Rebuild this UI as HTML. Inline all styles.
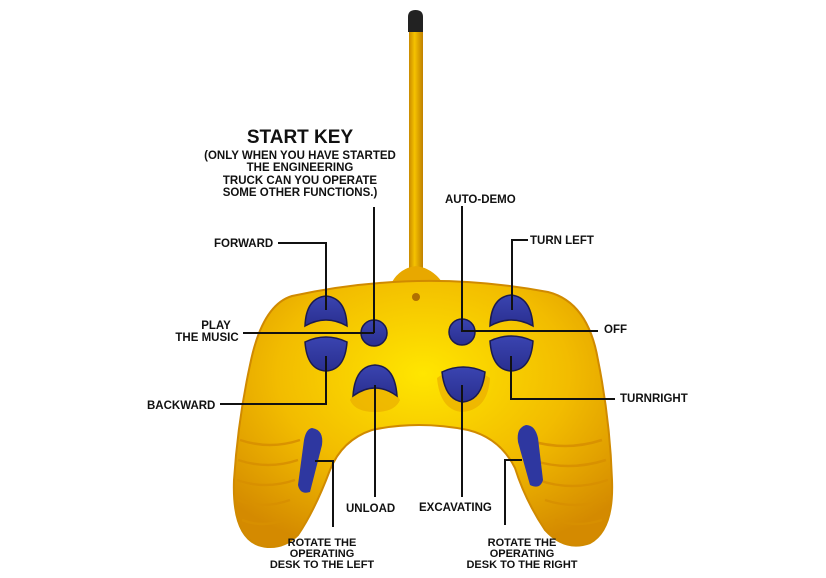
<!DOCTYPE html>
<html><head><meta charset="utf-8"><style>
html,body{margin:0;padding:0;background:#fff;}
svg{display:block;}
text{font-family:"Liberation Sans",Arial,sans-serif;font-weight:bold;fill:#111;}
</style></head><body>
<svg width="826" height="578" viewBox="0 0 826 578" xmlns="http://www.w3.org/2000/svg">
<defs>
<linearGradient id="ant" x1="0" x2="1"><stop offset="0" stop-color="#c98a00"/><stop offset="0.4" stop-color="#f5c200"/><stop offset="1" stop-color="#c08000"/></linearGradient>
<radialGradient id="body" cx="0.5" cy="0.35" r="0.7"><stop offset="0" stop-color="#ffe600"/><stop offset="0.55" stop-color="#f2bc00"/><stop offset="1" stop-color="#d48a00"/></radialGradient>
<linearGradient id="btn" x1="0" y1="0" x2="0" y2="1"><stop offset="0" stop-color="#3a44b0"/><stop offset="1" stop-color="#2a2f90"/></linearGradient>
</defs>
<rect x="409" y="25" width="14" height="255" fill="url(#ant)"/>
<path d="M408 32 L408 17 Q408 10 415.5 10 Q423 10 423 17 L423 32 Z" fill="#222"/>
<path d="M392 282 Q400 268 416 266 Q432 268 442 282 Z" fill="#e8a800"/>
<path d="M292 296 Q420 268 548 292 Q588 302 598 360 Q610 420 612 480 Q614 530 590 543 Q565 552 545 530 Q525 500 515 468 Q500 438 468 430 Q418 420 372 430 Q342 440 330 470 Q315 510 298 535 Q280 552 258 545 Q232 535 234 480 Q238 420 250 365 Q262 305 292 296 Z" fill="url(#body)" stroke="#d08a00" stroke-width="2"/>
<g stroke="#d89000" stroke-width="2.5" fill="none" opacity="0.9">
<path d="M240 440 Q270 450 300 440"/><path d="M238 460 Q268 470 298 460"/><path d="M237 480 Q265 490 295 480"/><path d="M238 500 Q262 510 290 500"/><path d="M242 520 Q262 528 284 520"/>
<path d="M528 440 Q565 452 602 440"/><path d="M532 460 Q568 472 606 460"/><path d="M538 480 Q572 492 608 480"/><path d="M545 500 Q575 510 606 500"/><path d="M555 520 Q578 528 602 520"/>
</g>
<path d="M350 400 Q375 350 400 400 Q395 412 375 412 Q355 412 350 400Z" fill="#e8a600" opacity="0.6"/>
<path d="M437 378 Q462 360 490 378 Q488 410 462 412 Q440 410 437 378Z" fill="#e8a600" opacity="0.6"/>
<circle cx="416" cy="297" r="4" fill="#b07000"/>
<path d="M312 428 Q324 430 322 445 L310 492 Q300 495 298 485 L304 440 Q306 429 312 428Z" fill="#2e37a0"/>
<path d="M526 425 Q516 428 518 442 L530 485 Q540 490 543 480 L538 438 Q535 425 526 425Z" fill="#2e37a0"/>
<g fill="url(#btn)" stroke="#1a1a50" stroke-width="1.5">
<path d="M305 326 Q306 298 326 296 Q346 298 347 326 Q326 314 305 326Z"/>
<path d="M305 342 Q326 332 347 342 Q345 370 326 371 Q307 370 305 342Z"/>
<path d="M490 326 Q491 297 511 295 Q531 297 533 326 Q511 314 490 326Z"/>
<path d="M490 341 Q511 331 533 341 Q531 370 511 371 Q492 370 490 341Z"/>
<circle cx="374" cy="333" r="13"/>
<circle cx="462" cy="332" r="13"/>
<path d="M353 396 Q355 366 375 365 Q395 366 397 396 Q375 380 353 396Z"/>
<path d="M442 372 Q463 362 485 372 Q482 400 463 402 Q445 400 442 372Z"/>
</g>
<g stroke="#111" stroke-width="2" fill="none">
<path d="M374 207 V333"/>
<path d="M462 206 V332"/>
<path d="M278 243 H326 V310"/>
<path d="M528 240 H512 V310"/>
<path d="M243 333 H374"/>
<path d="M462 331 H598"/>
<path d="M220 404 H326 V356"/>
<path d="M511 356 V399 H615"/>
<path d="M375 385 V497"/>
<path d="M462 385 V497"/>
<path d="M315 461 H333 V527"/>
<path d="M522 460 H505 V525"/>
</g>
<text x="300" y="143" font-size="19" text-anchor="middle">START KEY</text>
<g font-size="11.5" text-anchor="middle">
<text x="300" y="159">(ONLY WHEN YOU HAVE STARTED</text>
<text x="300" y="171">THE ENGINEERING</text>
<text x="300" y="184">TRUCK CAN YOU OPERATE</text>
<text x="300" y="196">SOME OTHER FUNCTIONS.)</text>
</g>
<g font-size="11.5">
<text x="445" y="203">AUTO-DEMO</text>
<text x="214" y="247">FORWARD</text>
<text x="530" y="244">TURN LEFT</text>
<text x="216" y="329" text-anchor="middle">PLAY</text>
<text x="207" y="341" text-anchor="middle">THE MUSIC</text>
<text x="604" y="333">OFF</text>
<text x="147" y="409">BACKWARD</text>
<text x="620" y="402">TURNRIGHT</text>
<text x="346" y="512">UNLOAD</text>
<text x="419" y="511">EXCAVATING</text>
</g>
<g font-size="11" text-anchor="middle">
<text x="322" y="546">ROTATE THE</text>
<text x="322" y="557">OPERATING</text>
<text x="322" y="568">DESK TO THE LEFT</text>
<text x="522" y="546">ROTATE THE</text>
<text x="522" y="557">OPERATING</text>
<text x="522" y="568">DESK TO THE RIGHT</text>
</g>
</svg>
</body></html>
